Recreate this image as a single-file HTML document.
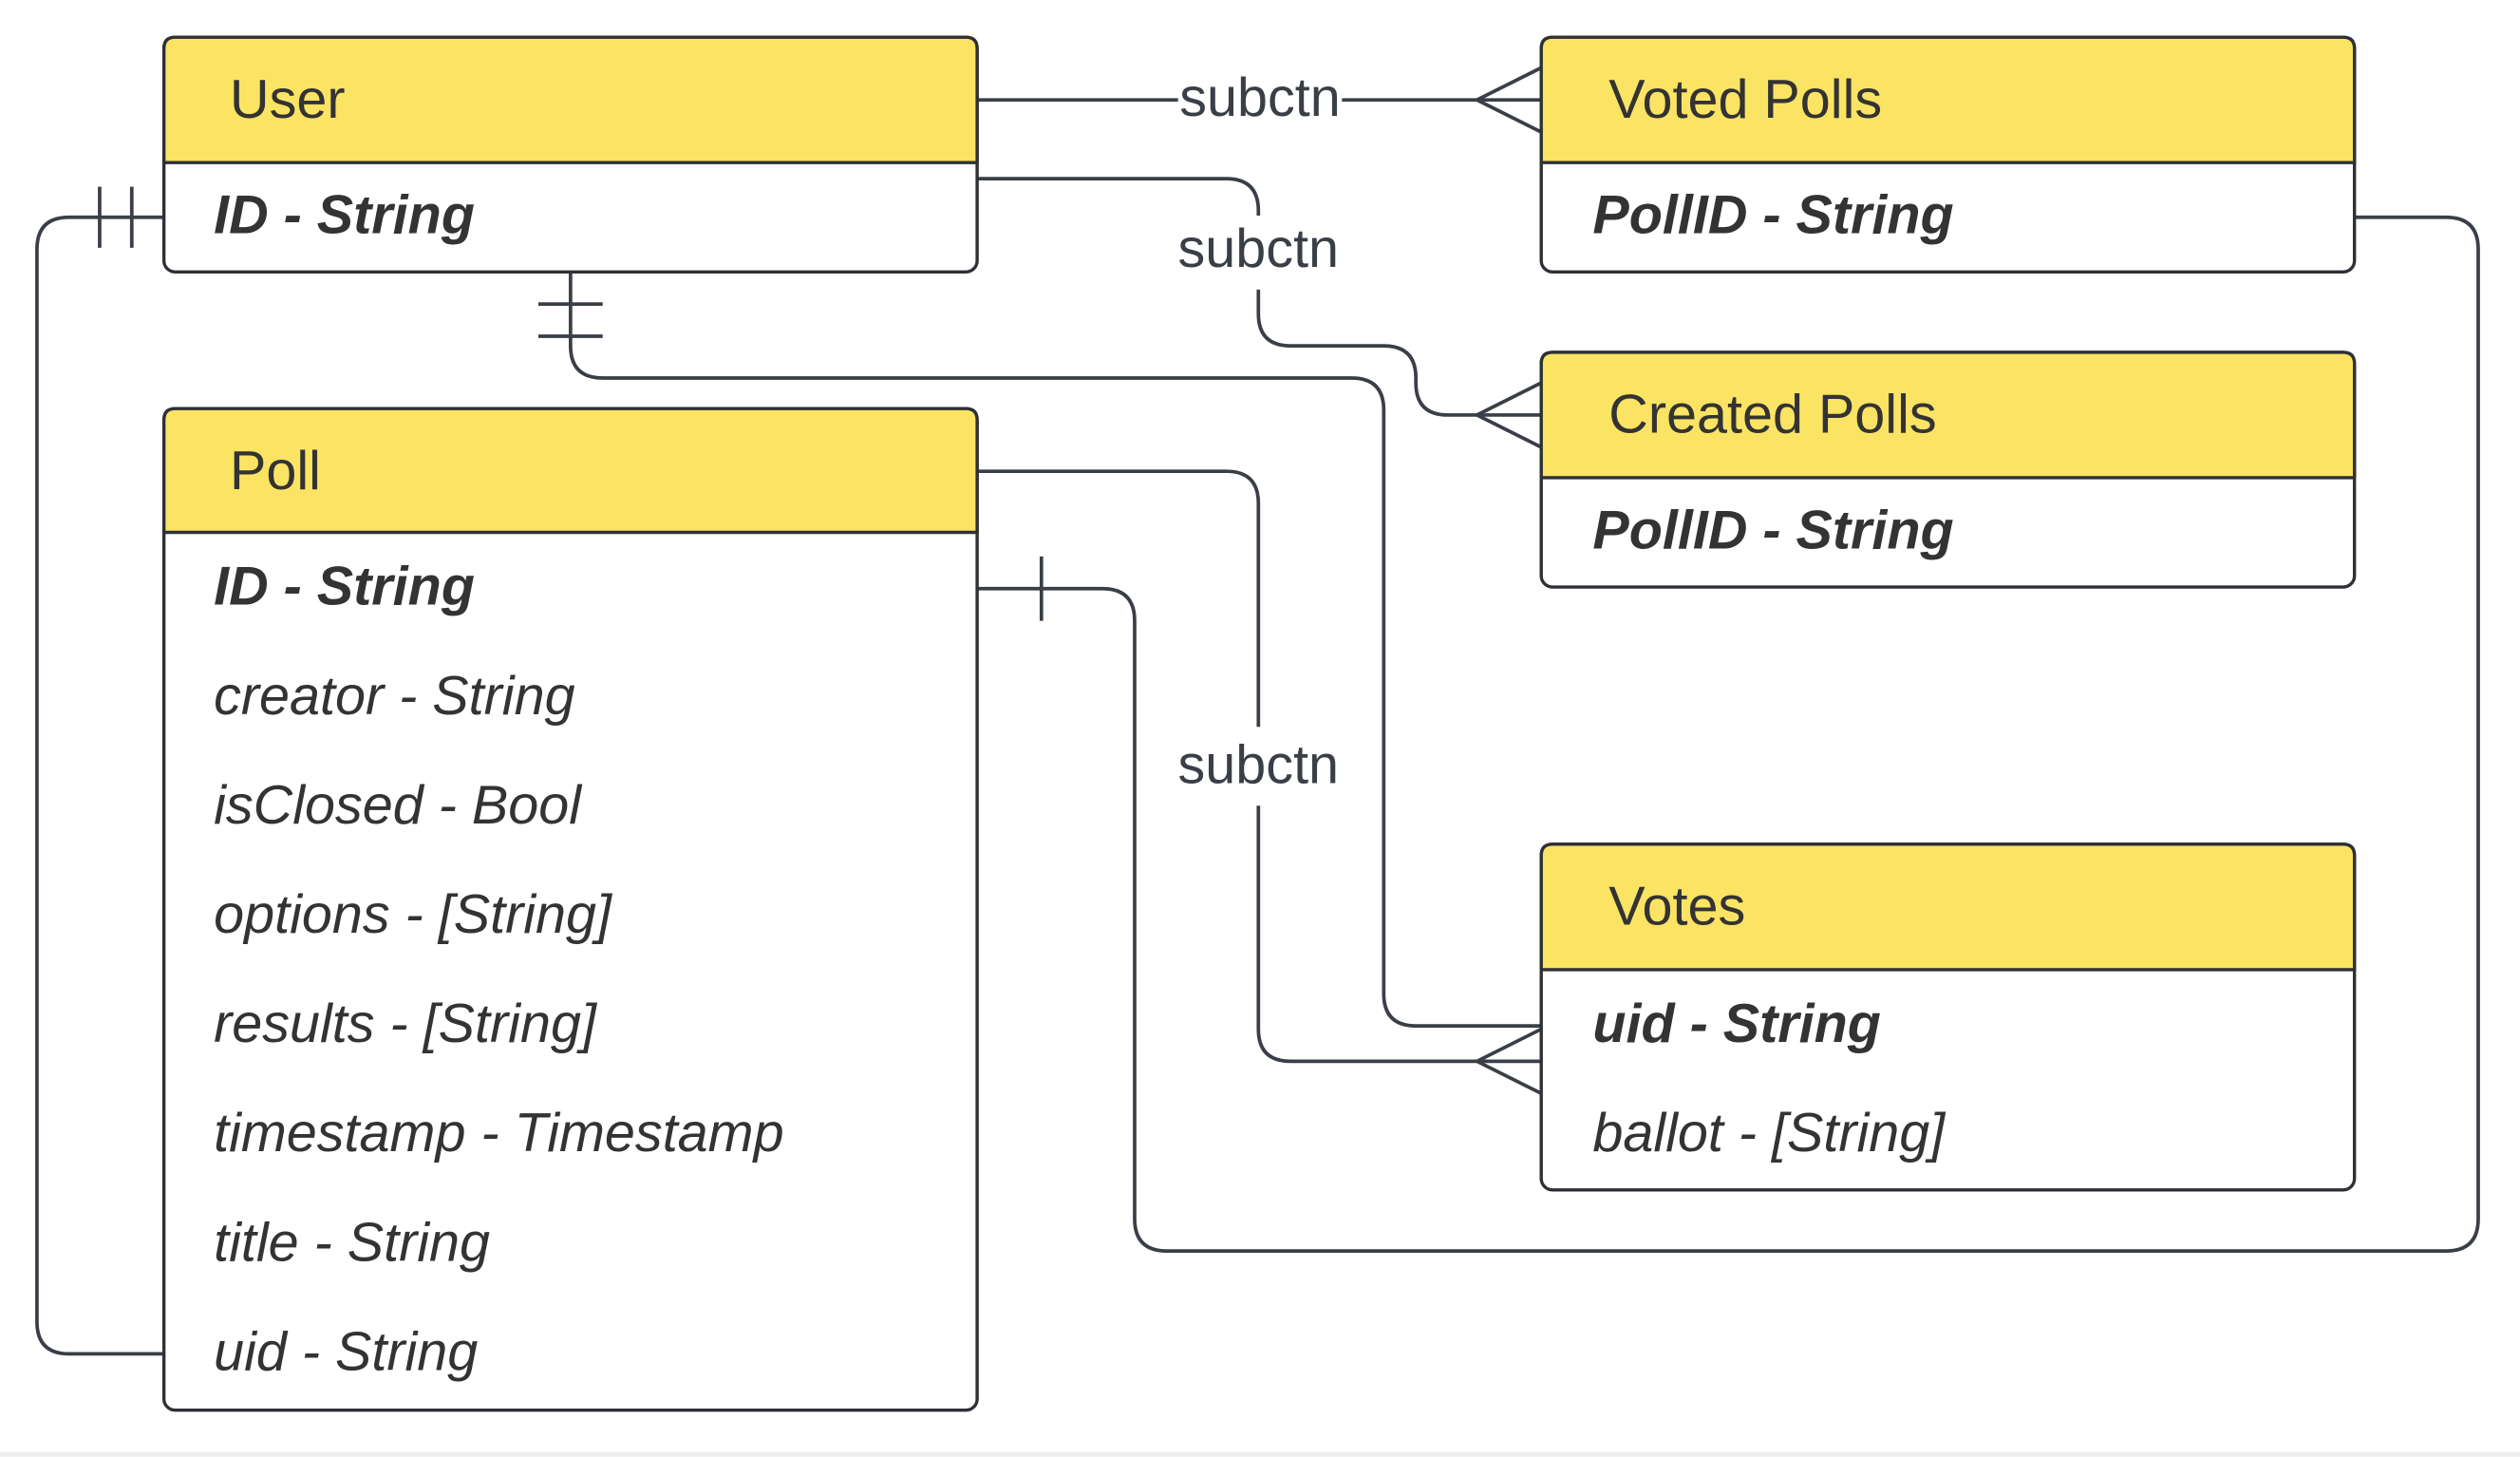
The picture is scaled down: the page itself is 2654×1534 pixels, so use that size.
<!DOCTYPE html>
<html><head><meta charset="utf-8"><style>
html,body{margin:0;padding:0;background:#fff;}
svg{display:block;}
text{font-family:"Liberation Sans",sans-serif;}
</style></head><body>
<svg width="2654" height="1534" viewBox="0 0 1568 906" xmlns="http://www.w3.org/2000/svg">
<rect x="0" y="0" width="1568" height="906" fill="#fff"/>
<rect x="0" y="903" width="1568" height="3" fill="#eeeeee"/>
<g fill="none" stroke="#3a3f47" stroke-width="2.2">
<!-- 1 User -> Voted -->
<path d="M608 62 H733 M835 62 H959"/>
<path d="M919 62 L959 42 M919 62 L959 82"/>
<!-- 2 User -> Created -->
<path d="M608 111 H763 Q783 111 783 131 V134 M783 180 V195 Q783 215 803 215 H861 Q881 215 881 235 V238 Q881 258 901 258 H959"/>
<path d="M919 258 L959 238 M919 258 L959 278"/>
<!-- 3 User bottom -> Votes uid -->
<path d="M355 169 V215 Q355 235 375 235 H841 Q861 235 861 255 V618 Q861 638 881 638 H959"/>
<path d="M335 189 H375 M335 209 H375"/>
<!-- 4 Poll header -> Votes -->
<path d="M608 293 H763 Q783 293 783 313 V452 M783 501 V640 Q783 660 803 660 H959"/>
<path d="M919 660 L959 640 M919 660 L959 680"/>
<!-- 5 Poll ID -> Voted PollID -->
<path d="M608 366 H686 Q706 366 706 386 V758 Q706 778 726 778 H1522 Q1542 778 1542 758 V155 Q1542 135 1522 135 H1465"/>
<path d="M648 346 V386"/>
<!-- 6 User ID -> Poll uid -->
<path d="M102 135 H43 Q23 135 23 155 V822 Q23 842 43 842 H102"/>
<path d="M62 116 V154 M82 116 V154"/>
</g>
<g fill="#3a3f47" font-size="34" text-anchor="middle">
<text x="784" y="72">subctn</text>
<text x="783" y="166">subctn</text>
<text x="783" y="487">subctn</text>
</g>
<!-- boxes -->
<g stroke="#2e3036" stroke-width="2">
<rect x="102" y="23" width="506" height="146" rx="7" fill="#fff"/>
<path d="M102 101 V30 Q102 23 109 23 H601 Q608 23 608 30 V101 Z" fill="#fbe364"/>
<rect x="959" y="23" width="506" height="146" rx="7" fill="#fff"/>
<path d="M959 101 V30 Q959 23 966 23 H1458 Q1465 23 1465 30 V101 Z" fill="#fbe364"/>
<rect x="959" y="219" width="506" height="146" rx="7" fill="#fff"/>
<path d="M959 297 V226 Q959 219 966 219 H1458 Q1465 219 1465 226 V297 Z" fill="#fbe364"/>
<rect x="102" y="254" width="506" height="623" rx="7" fill="#fff"/>
<path d="M102 331 V261 Q102 254 109 254 H601 Q608 254 608 261 V331 Z" fill="#fbe364"/>
<rect x="959" y="525" width="506" height="215" rx="7" fill="#fff"/>
<path d="M959 603 V532 Q959 525 966 525 H1458 Q1465 525 1465 532 V603 Z" fill="#fbe364"/>
</g>
<g fill="#333" font-size="34">
<text x="143" y="73">User</text>
<text x="1001" y="73">Voted Polls</text>
<text x="1001" y="269">Created Polls</text>
<text x="143" y="304">Poll</text>
<text x="1001" y="575">Votes</text>
<g font-style="italic" font-weight="bold">
<text x="133" y="145">ID - String</text>
<text x="991" y="145">PollID - String</text>
<text x="991" y="341">PollID - String</text>
<text x="133" y="376">ID - String</text>
<text x="991" y="648">uid - String</text>
</g>
<g font-style="italic">
<text x="133" y="444">creator - String</text>
<text x="133" y="512">isClosed - Bool</text>
<text x="133" y="580">options - [String]</text>
<text x="133" y="648">results - [String]</text>
<text x="133" y="716">timestamp - Timestamp</text>
<text x="133" y="784">title - String</text>
<text x="133" y="852">uid - String</text>
<text x="991" y="716">ballot - [String]</text>
</g>
</g>
</svg>
</body></html>
